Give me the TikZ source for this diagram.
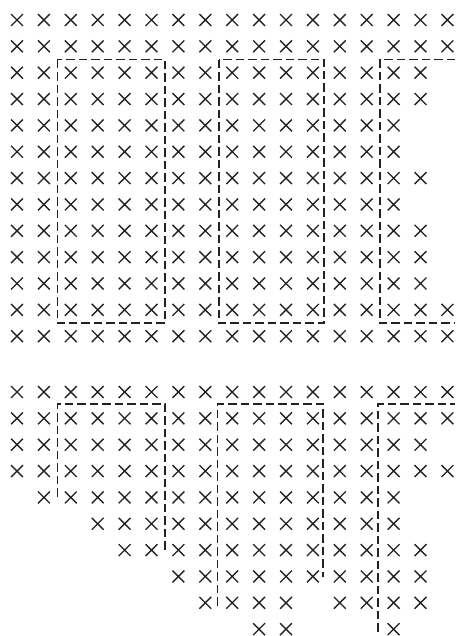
\documentclass[tikz,border=0pt]{standalone}
\usepackage{xcolor}
\usepackage{tikz}
\usetikzlibrary{shapes.misc}
\definecolor{inkGray}{HTML}{222222}

\begin{document}
\begin{tikzpicture}[
    x=26.9pt, y=-26.35pt,
    xmark/.style={draw=inkGray, cross out, line width=1.35pt, minimum size=10.5pt, inner sep=0pt},
    cut/.style={draw=inkGray, line width=1.6pt, dash pattern=on 8.5pt off 4pt}
]
\useasboundingbox (-17pt,20pt) rectangle (438pt,-616pt);
% Upper grid (row/last column)
\foreach \r/\last in {0/16,1/16,2/15,3/15,4/14,5/14,6/15,7/14,8/15,9/15,10/15,11/16,12/16}
  \foreach \c in {0,...,\last}
    \node[xmark] (u-\r-\c) at (\c,\r) {};
% Upper cuts
\draw[cut] (1.5,1.5) rectangle (5.5,11.5);
\draw[cut] (7.5,1.5) rectangle (11.42,11.5);
\draw[cut] (16.3,1.5) -- (13.5,1.5) -- (13.5,11.5) -- (16.3,11.5);
% Lower grid (row/first/last column)
\begin{scope}[yshift=-372pt]
\foreach \r/\first/\last in {0/0/16,1/0/16,2/0/15,3/0/16,4/1/14,5/3/14,6/4/15,7/6/15,8/7/10,8/12/15,9/9/10,9/14/14}
  \foreach \c in {\first,...,\last}
    \node[xmark] (l-\r-\c) at (\c,\r) {};
% Lower cuts
\draw[cut] (1.5,3.98) -- (1.5,0.46) -- (5.5,0.46) -- (5.5,6);
\draw[cut] (7.46,8.12) -- (7.46,0.46) -- (11.38,0.46) -- (11.38,7.02);
\draw[cut] (13.42,9.1) -- (13.42,0.46) -- (16.3,0.46);
\end{scope}
\end{tikzpicture}
\end{document}
